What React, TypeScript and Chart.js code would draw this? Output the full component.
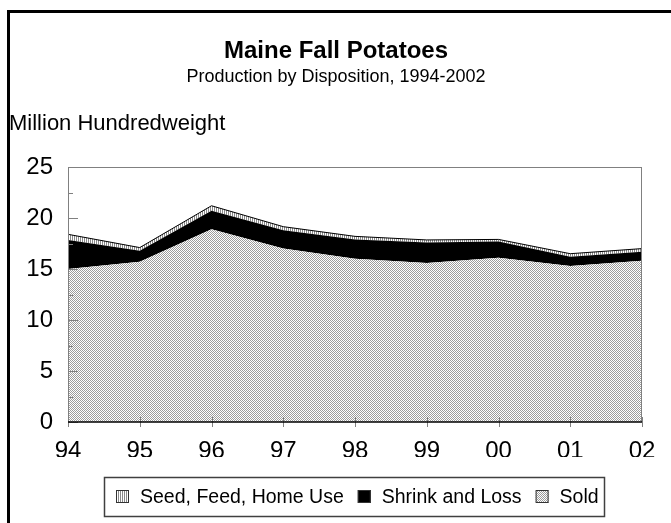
import React, { useEffect, useRef } from 'react';
import { Chart, registerables } from 'chart.js';

Chart.register(...registerables);

const categories = ['94', '95', '96', '97', '98', '99', '00', '01', '02'];
const soldValues = [15.0, 15.7, 18.9, 17.0, 16.0, 15.6, 16.1, 15.3, 15.8];
const shrinkValues = [2.85, 1.1, 1.8, 1.8, 1.9, 2.0, 1.6, 0.9, 0.9];
const seedValues = [0.55, 0.3, 0.5, 0.35, 0.3, 0.25, 0.2, 0.3, 0.3];
const yMinorTicks = [2.5, 7.5, 12.5, 17.5, 22.5];
const yMajorTicks = [0, 5, 10, 15, 20, 25];
const titleText = 'Maine Fall Potatoes';
const subtitleText = 'Production by Disposition, 1994-2002';
const yAxisTitle = 'Million Hundredweight';
const legendLabels = ['Seed, Feed, Home Use', 'Shrink and Loss', 'Sold'];

const FONT = "'Liberation Sans', Arial, Helvetica, sans-serif";

function makePattern(ctx: CanvasRenderingContext2D, kind: 'checker' | 'stripes'): CanvasPattern {
  const c = document.createElement('canvas');
  c.width = 2;
  c.height = 2;
  const x = c.getContext('2d')!;
  x.fillStyle = '#ffffff';
  x.fillRect(0, 0, 2, 2);
  if (kind === 'checker') {
    x.fillStyle = '#9c9c9c';
    x.fillRect(0, 0, 1, 1);
    x.fillRect(1, 1, 1, 1);
  } else {
    x.fillStyle = '#8a8a8a';
    x.fillRect(0, 0, 1, 2);
  }
  return ctx.createPattern(c, 'repeat')!;
}

export default function App() {
  const ref = useRef<HTMLCanvasElement | null>(null);

  useEffect(() => {
    const canvas = ref.current!;
    const ctx0 = canvas.getContext('2d')!;
    const checker = makePattern(ctx0, 'checker');
    const stripes = makePattern(ctx0, 'stripes');

    const decor = {
      id: 'decor',
      beforeDraw(chart: any) {
        const ctx = chart.ctx as CanvasRenderingContext2D;
        ctx.save();
        ctx.fillStyle = '#ffffff';
        ctx.fillRect(0, 0, chart.width, chart.height);
        ctx.strokeStyle = '#000000';
        ctx.lineWidth = 3;
        ctx.strokeRect(8.5, 11.5, 800, 700);
        ctx.fillStyle = '#000000';
        ctx.textAlign = 'center';
        ctx.textBaseline = 'alphabetic';
        ctx.font = `bold 24px ${FONT}`;
        ctx.fillText(titleText, 336, 58);
        ctx.font = `18px ${FONT}`;
        ctx.fillText(subtitleText, 336, 82);
        ctx.textAlign = 'left';
        ctx.font = `22px ${FONT}`;
        ctx.fillText(yAxisTitle, 9, 130);
        ctx.restore();
      },
      afterDatasetsDraw(chart: any) {
        const ctx = chart.ctx as CanvasRenderingContext2D;
        const a = chart.chartArea;
        const ys = chart.scales.y;
        const xs = chart.scales.x;
        ctx.save();
        ctx.lineWidth = 1;
        ctx.strokeStyle = '#808080';
        ctx.beginPath();
        ctx.moveTo(a.left, Math.round(a.top) + 0.5);
        ctx.lineTo(a.right, Math.round(a.top) + 0.5);
        ctx.moveTo(Math.round(a.right) - 0.5, a.top);
        ctx.lineTo(Math.round(a.right) - 0.5, a.bottom);
        ctx.moveTo(Math.round(a.left) + 0.5, a.top);
        ctx.lineTo(Math.round(a.left) + 0.5, a.bottom);
        ctx.stroke();
        ctx.beginPath();
        yMajorTicks.forEach((v) => {
          const py = Math.round(ys.getPixelForValue(v)) + 0.5;
          ctx.moveTo(a.left, py);
          ctx.lineTo(a.left + 10, py);
        });
        yMinorTicks.forEach((v) => {
          const py = Math.round(ys.getPixelForValue(v)) + 0.5;
          ctx.moveTo(a.left, py);
          ctx.lineTo(a.left + 5, py);
        });
        categories.forEach((_, i) => {
          const px = Math.round(xs.getPixelForValue(i)) + 0.5;
          ctx.moveTo(px, a.bottom - 5);
          ctx.lineTo(px, a.bottom + 5);
        });
        ctx.stroke();
        ctx.strokeStyle = '#000000';
        ctx.lineWidth = 1.5;
        ctx.beginPath();
        ctx.moveTo(a.left, a.bottom);
        ctx.lineTo(a.right, a.bottom);
        ctx.stroke();
        ctx.restore();
      },
      afterDraw(chart: any) {
        const ctx = chart.ctx as CanvasRenderingContext2D;
        ctx.save();
        ctx.strokeStyle = '#404040';
        ctx.lineWidth = 1.5;
        ctx.strokeRect(104.5, 477.5, 500, 39);
        ctx.font = `19.5px ${FONT}`;
        ctx.textBaseline = 'middle';
        ctx.textAlign = 'left';
        const fills = [stripes, '#000000', checker];
        let x = 116;
        const cy = 497;
        legendLabels.forEach((label, i) => {
          ctx.fillStyle = fills[i] as any;
          ctx.fillRect(x, cy - 7, 13, 13);
          ctx.strokeStyle = '#333333';
          ctx.lineWidth = 1;
          ctx.strokeRect(x + 0.5, cy - 6.5, 12, 12);
          ctx.fillStyle = '#000000';
          ctx.fillText(label, x + 24, cy + 1);
          x = x + 24 + ctx.measureText(label).width + 14;
        });
        ctx.restore();
      },
    };

    const chart = new Chart(canvas, {
      type: 'line',
      data: {
        labels: categories,
        datasets: [
          {
            label: legendLabels[2],
            data: soldValues,
            backgroundColor: checker as any,
            borderWidth: 0,
            borderColor: 'rgba(0,0,0,0)',
            fill: 'origin',
            pointRadius: 0,
            tension: 0,
          },
          {
            label: legendLabels[1],
            data: shrinkValues,
            backgroundColor: '#000000',
            borderColor: '#000000',
            borderWidth: 0,
            fill: '-1',
            pointRadius: 0,
            tension: 0,
          },
          {
            label: legendLabels[0],
            data: seedValues,
            backgroundColor: stripes as any,
            borderColor: '#000000',
            borderWidth: 1,
            fill: '-1',
            pointRadius: 0,
            tension: 0,
          },
        ],
      },
      options: {
        responsive: false,
        animation: false,
        devicePixelRatio: 1,
        layout: { padding: { left: 0, top: 167, right: 29, bottom: 66 } },
        plugins: {
          legend: { display: false },
          title: { display: false },
          tooltip: { enabled: false },
        },
        scales: {
          x: {
            offset: false,
            grid: { display: false, drawTicks: false },
            border: { display: false },
            ticks: {
              color: '#000000',
              font: { family: FONT, size: 24 },
              padding: 15,
              maxRotation: 0,
              autoSkip: false,
            },
            afterFit: (s: any) => {
              s.height = 35;
            },
          },
          y: {
            stacked: true,
            min: 0,
            max: 25,
            grid: { display: false, drawTicks: false },
            border: { display: false },
            ticks: {
              stepSize: 5,
              color: '#000000',
              font: { family: FONT, size: 24 },
              padding: 15,
            },
            afterFit: (s: any) => {
              s.width = 68;
            },
          },
        },
      },
      plugins: [decor],
    });

    return () => chart.destroy();
  }, []);

  return (
    <div style={{ position: 'fixed', left: 0, top: 0, width: 671, height: 523, background: '#fff' }}>
      <canvas ref={ref} width={671} height={523} style={{ width: 671, height: 523, display: 'block' }} />
    </div>
  );
}
